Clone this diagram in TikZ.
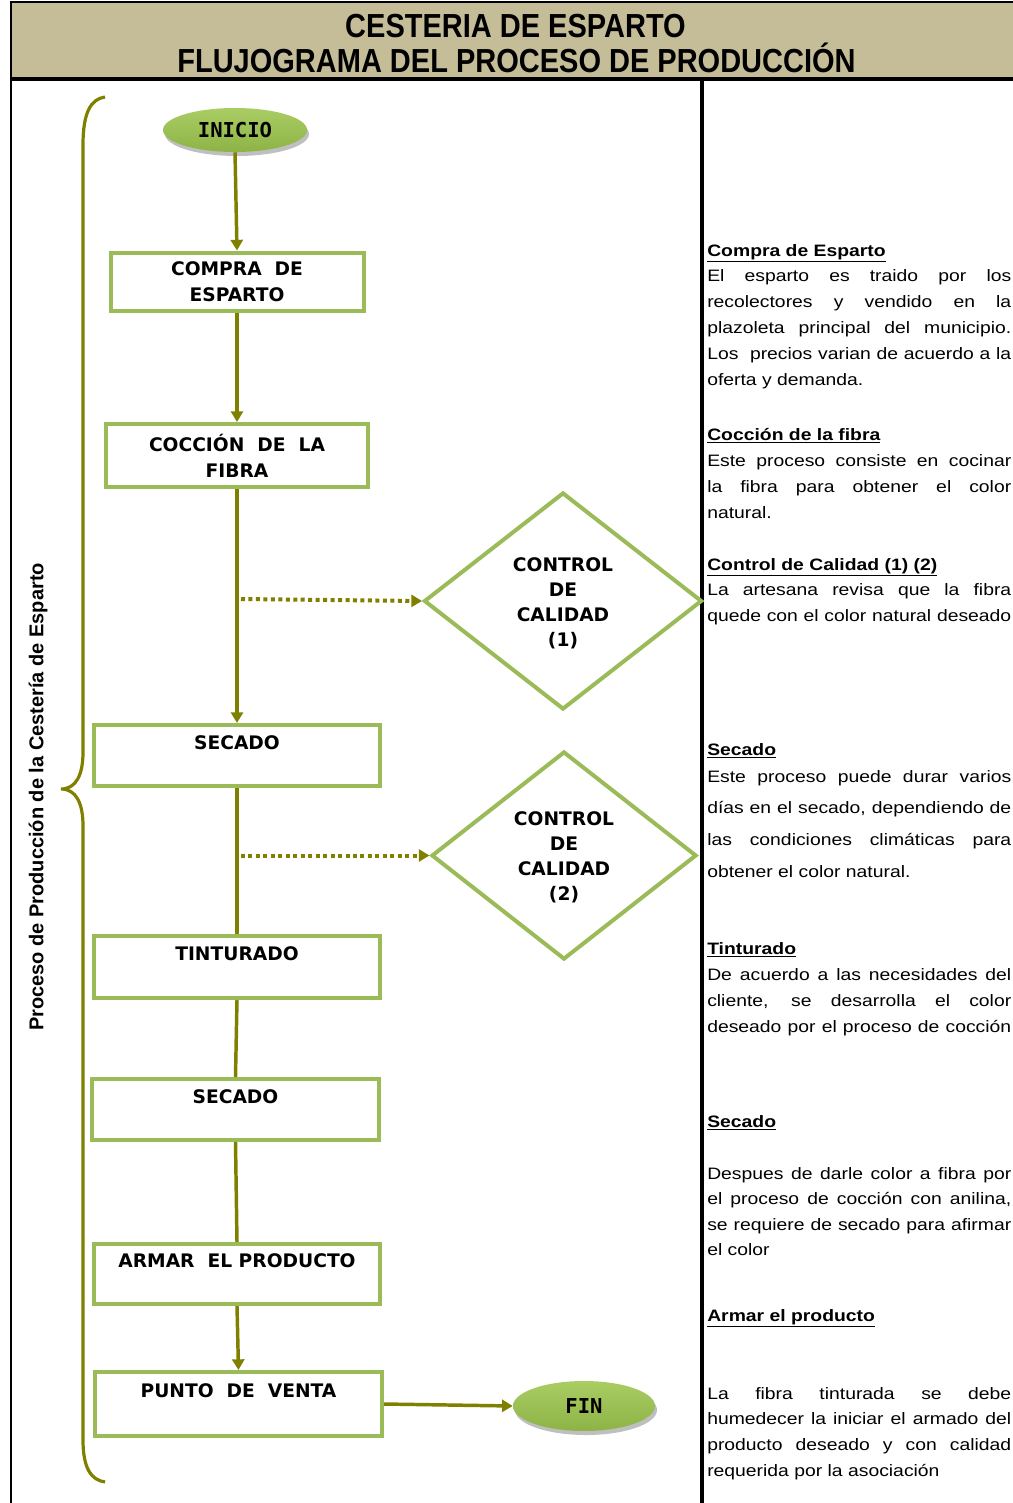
\documentclass[tikz,border=0pt]{standalone}
\usepackage{fontspec}
\setmainfont{Liberation Sans}
\newfontfamily\bodyfont[FakeStretch=1.17]{Liberation Sans}
\newfontfamily\titlefont[FakeStretch=0.87]{Liberation Sans}
\newfontfamily\boxfont{DejaVu Sans}
\newfontfamily\ellfont{DejaVu Sans Mono}
\usetikzlibrary{arrows.meta,shapes.geometric,shadows}
\definecolor{tanhead}{HTML}{C4BD97}
\definecolor{boxgreen}{HTML}{9BBB59}
\definecolor{olivec}{HTML}{808000}
\definecolor{ellL}{HTML}{AACD63}
\definecolor{ellD}{HTML}{8DB346}
\newcommand\jl[3]{\node[bodytxt] (#1) at (707,#2) {\makebox[228pt][s]{#3}};}
\newcommand\nl[3]{\node[bodytxt] (#1) at (707,#2) {#3};}
\newcommand\hl[3]{\node[headtxt] (#1) at (707,#2) {\underline{#3}};}
\begin{document}
\begin{tikzpicture}[x=0.75pt,y=-0.75pt,
  box/.style={draw=boxgreen, line width=3pt, fill=white, inner sep=0pt, align=center,
    font=\boxfont\bfseries\fontsize{14pt}{19.5pt}\selectfont},
  dia/.style={diamond, draw=boxgreen, line width=3pt, fill=white, inner sep=0pt},
  diatxt/.style={align=center, inner sep=0pt,
    font=\boxfont\bfseries\fontsize{14pt}{18.75pt}\selectfont},
  term/.style={ellipse, top color=ellL, bottom color=ellD, draw=none, inner sep=0pt,
    font=\ellfont\bfseries\fontsize{15.4pt}{18pt}\selectfont,
    drop shadow={shadow xshift=1.5pt, shadow yshift=-3pt, opacity=0.25, fill=black}},
  conn/.style={draw=olivec, line width=2.6pt},
  arr/.style={conn, -{Triangle[width=9pt,length=8pt]}},
  dots/.style={draw=olivec, line width=3pt, dash pattern=on 3pt off 2.6pt, -{Triangle[width=9pt,length=8pt]}},
  titletxt/.style={anchor=base, inner sep=0pt, font=\titlefont\bfseries\fontsize{25pt}{30pt}\selectfont},
  bodytxt/.style={anchor=base west, inner sep=0pt, font=\bodyfont\fontsize{12.4pt}{15pt}\selectfont},
  headtxt/.style={anchor=base west, inner sep=0pt, font=\bodyfont\bfseries\fontsize{12.4pt}{15pt}\selectfont}
]
\useasboundingbox (0,0) rectangle (1013,1503);
\fill[white] (0,0) rectangle (1013,1503);
% header
\fill[tanhead] (11,2) rectangle (1013,79);
\draw[black, line width=1.5pt] (1013,2) -- (11,2) -- (11,1503);
\draw[black, line width=3pt] (11,79) -- (1013,79);
\draw[black, line width=2.5pt] (702,79) -- (702,1503);
\node[titletxt] (t1) at (515.5,37) {CESTERIA DE ESPARTO};
\node[titletxt] (t2) at (516.5,72) {FLUJOGRAMA DEL PROCESO DE PRODUCCIÓN};

% brace
\draw[olivec, line width=2.4pt] (105,97) .. controls (91,99) and (83,112) .. (83,145)
  -- (83,752) .. controls (83,775) and (76,789) .. (61,789)
  .. controls (76,789) and (83,803) .. (83,826)
  -- (83,1440) .. controls (83,1468) and (91,1480) .. (105,1482);
\node[rotate=90, inner sep=0pt, font=\bfseries\fontsize{15pt}{17pt}\selectfont] (side) at (38,797) {Proceso de Producción de la Cestería de Esparto};

% nodes
\node[term, minimum width=108pt, minimum height=33pt] (ini) at (235,130) {INICIO};
\node[box, minimum width=189.75pt, minimum height=43.5pt] (compra) at (237,281.5) {COMPRA\ \ DE\\ESPARTO};
\node[box, minimum width=196.5pt, minimum height=47.25pt] (coccion) at (237,455.5) {COCCIÓN\ \ DE\ \ LA\\FIBRA};
\node[box, minimum width=214.5pt, minimum height=45.75pt] (sec1) at (237,755.5) {SECADO\\\phantom{S}};
\node[box, minimum width=214.5pt, minimum height=46.5pt] (tint) at (237,967) {TINTURADO\\\phantom{S}};
\node[box, minimum width=215.25pt, minimum height=45.75pt] (sec2) at (235.5,1109.5) {SECADO\\\phantom{S}};
\node[box, minimum width=214.5pt, minimum height=45pt] (armar) at (237,1274) {ARMAR\ \ EL PRODUCTO\\\phantom{S}};
\node[box, minimum width=215.25pt, minimum height=48pt] (punto) at (238.5,1404) {PUNTO\ \ DE\ \ VENTA\\\phantom{S}};
\node[term, minimum width=106.5pt, minimum height=37.5pt] (fin) at (584,1406) {FIN};

\node[dia, minimum width=208.5pt, minimum height=162.75pt] (d1) at (563,601) {};
\node[diatxt] (d1t) at (563,603.5) {CONTROL\\DE\\CALIDAD\\(1)};
\node[dia, minimum width=198.75pt, minimum height=156pt] (d2) at (564,855.5) {};
\node[diatxt] (d2t) at (564,857) {CONTROL\\DE\\CALIDAD\\(2)};

% connectors
\draw[arr] (ini.south) -- (compra.north);
\draw[arr] (compra.south) -- (coccion.north);
\draw[arr] (coccion.south) -- (sec1.north);
\coordinate (j1) at (241,599);
\draw[dots] (j1) -- (d1.west);
\draw[conn] (sec1.south) -- (tint.north);
\coordinate (j2) at (241,855.5);
\draw[dots] (j2) -- (d2.west);
\draw[conn] (tint.south) -- (sec2.north);
\draw[conn] (sec2.south) -- (armar.north);
\draw[arr] (armar.south) -- (punto.north);
\draw[arr] (punto.east) -- (fin.west);

% right texts
\hl{h1}{256}{Compra de Esparto}
\jl{a1}{281}{El esparto es traido por los}
\jl{a2}{307}{recolectores y vendido en la}
\jl{a3}{333}{plazoleta principal del municipio.}
\jl{a4}{359}{Los\ \ precios varian de acuerdo a la}
\nl{a5}{385}{oferta y demanda.}
\hl{h2}{440}{Cocción de la fibra}
\jl{b1}{466}{Este proceso consiste en cocinar}
\jl{b2}{492}{la fibra para obtener el color}
\nl{b3}{518}{natural.}
\hl{h3}{570}{Control de Calidad (1) (2)}
\jl{c1}{595}{La artesana revisa que la fibra}
\jl{c2}{621}{quede con el color natural deseado}
\hl{h4}{755}{Secado}
\jl{e1}{782}{Este proceso puede durar varios}
\jl{e2}{813}{días en el secado, dependiendo de}
\jl{e3}{845}{las condiciones climáticas para}
\nl{e4}{877}{obtener el color natural.}
\hl{h5}{954}{Tinturado}
\jl{f1}{980}{De acuerdo a las necesidades del}
\jl{f2}{1006}{cliente, se desarrolla el color}
\jl{f3}{1032}{deseado por el proceso de cocción}
\hl{h6}{1127}{Secado}
\jl{g1}{1179}{Despues de darle color a fibra por}
\jl{g2}{1204}{el proceso de cocción con anilina,}
\jl{g3}{1230}{se requiere de secado para afirmar}
\nl{g4}{1255}{el color}
\hl{h7}{1321}{Armar el producto}
\jl{k1}{1399}{La fibra tinturada se debe}
\jl{k2}{1424}{humedecer la iniciar el armado del}
\jl{k3}{1450}{producto deseado y con calidad}
\nl{k4}{1476}{requerida por la asociación}
\end{tikzpicture}
\end{document}
